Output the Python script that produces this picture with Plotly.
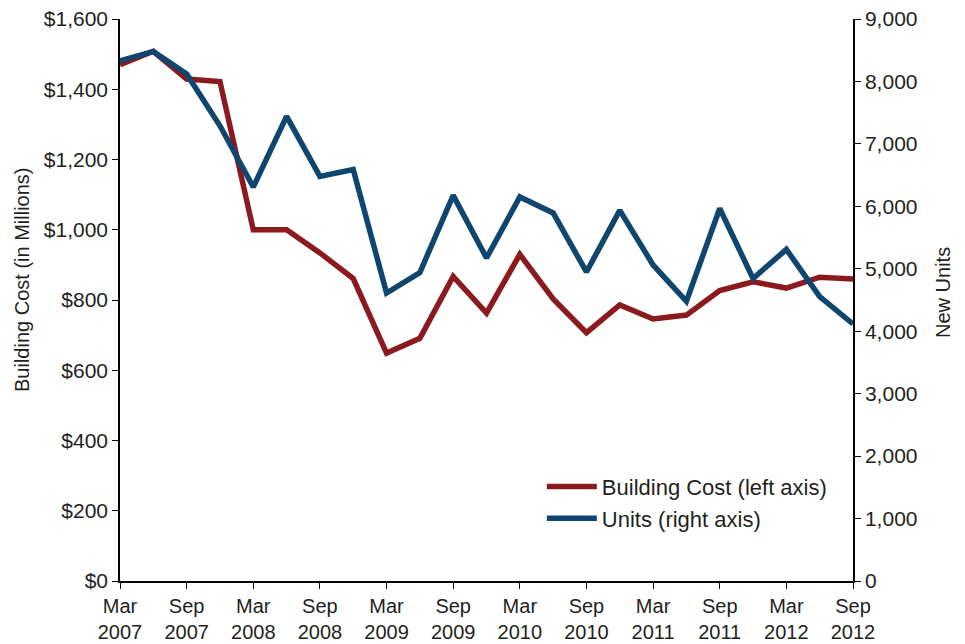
import plotly.graph_objects as go

quarters = ["Mar 2007", "Jun 2007", "Sep 2007", "Dec 2007",
            "Mar 2008", "Jun 2008", "Sep 2008", "Dec 2008",
            "Mar 2009", "Jun 2009", "Sep 2009", "Dec 2009",
            "Mar 2010", "Jun 2010", "Sep 2010", "Dec 2010",
            "Mar 2011", "Jun 2011", "Sep 2011", "Dec 2011",
            "Mar 2012", "Jun 2012", "Sep 2012"]

building_cost = [1470, 1508, 1429, 1422, 1000, 1000, 934, 861,
                 649, 691, 867, 763, 930, 803, 707, 786,
                 746, 757, 827, 852, 834, 865, 860]

units = [8328, 8480, 8120, 7290, 6310, 7440, 6480, 6590,
         4612, 4940, 6175, 5173, 6150, 5894, 4949, 5935,
         5061, 4480, 5965, 4845, 5310, 4556, 4116]

x_tick_labels = ["Mar<br>2007", "Sep<br>2007", "Mar<br>2008", "Sep<br>2008",
                 "Mar<br>2009", "Sep<br>2009", "Mar<br>2010", "Sep<br>2010",
                 "Mar<br>2011", "Sep<br>2011", "Mar<br>2012", "Sep<br>2012"]
x_tick_vals = quarters[::2]

left_ticks = [0, 200, 400, 600, 800, 1000, 1200, 1400, 1600]
left_tick_labels = ["$0", "$200", "$400", "$600", "$800", "$1,000",
                    "$1,200", "$1,400", "$1,600"]
right_ticks = [0, 1000, 2000, 3000, 4000, 5000, 6000, 7000, 8000, 9000]
right_tick_labels = ["0", "1,000", "2,000", "3,000", "4,000", "5,000",
                     "6,000", "7,000", "8,000", "9,000"]

left_title = "Building Cost (in Millions)"
right_title = "New Units"

RED = "#8B1A1F"
BLUE = "#0E4670"
FONT = "Liberation Sans, Arial, sans-serif"
TXT = "#231f20"

fig = go.Figure()
fig.add_trace(go.Scatter(x=quarters, y=building_cost, mode="lines",
                         name="Building Cost (left axis)", legendgroup="a",
                         line=dict(color=RED, width=5.5)))
fig.add_trace(go.Scatter(x=quarters, y=units, mode="lines",
                         name="Units (right axis)", yaxis="y2", legendgroup="b",
                         line=dict(color=BLUE, width=5.5)))

fig.update_layout(
    width=957, height=636,
    margin=dict(l=112, r=112, t=11, b=63, autoexpand=False),
    paper_bgcolor="white", plot_bgcolor="white",
    font=dict(family=FONT, size=20, color=TXT),
    showlegend=True,
    legend=dict(x=0.5755, y=0.205, xanchor="left", yanchor="top",
                bgcolor="rgba(0,0,0,0)", font=dict(size=22),
                traceorder="grouped", tracegroupgap=0, itemwidth=50),
    xaxis=dict(type="category", range=[0, 22], automargin=False,
               tickmode="array", tickvals=x_tick_vals, ticktext=x_tick_labels,
               tickfont=dict(size=20), ticklabeloverflow="allow",
               showline=True, linecolor="black", linewidth=1.5,
               ticks="outside", ticklen=6, tickcolor="black",
               showgrid=False, zeroline=False),
    yaxis=dict(range=[0, 1600], tickmode="array", tickvals=left_ticks,
               ticktext=left_tick_labels, automargin=False,
               tickfont=dict(size=21), ticklabeloverflow="allow",
               showline=True, linecolor="black", linewidth=1.5,
               ticks="outside", ticklen=6, tickcolor="black",
               showgrid=False, zeroline=False),
    yaxis2=dict(range=[0, 9000], tickmode="array", tickvals=right_ticks,
                ticktext=right_tick_labels, automargin=False,
                tickfont=dict(size=21), ticklabeloverflow="allow",
                overlaying="y", side="right",
                showline=True, linecolor="black", linewidth=1.5,
                ticks="outside", ticklen=6, tickcolor="black",
                showgrid=False, zeroline=False),
    annotations=[
        dict(text=left_title, xref="paper", yref="paper", x=0, y=0.5356,
             xshift=-98, textangle=-90, showarrow=False,
             xanchor="center", yanchor="middle", font=dict(size=20)),
        dict(text=right_title, xref="paper", yref="paper", x=1, y=0.5125,
             xshift=90, textangle=-90, showarrow=False,
             xanchor="center", yanchor="middle", font=dict(size=20)),
    ],
)

fig.write_html("out.html")
